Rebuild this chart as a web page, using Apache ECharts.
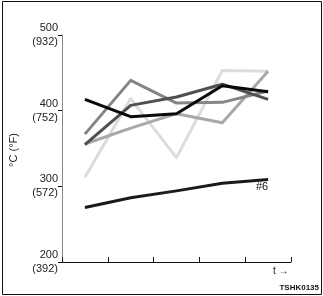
<!DOCTYPE html>
<html>
<head>
<meta charset="utf-8">
<script src="https://cdn.jsdelivr.net/npm/echarts@6/dist/echarts.min.js"></script>
<style>html,body{margin:0;padding:0;background:#fff}#c{width:323px;height:296px}</style>
</head>
<body>
<div id="c"></div>
<script>
// Data
var xPos = [0.5, 1.5, 2.5, 3.5, 4.5];
var seriesBlack = [415, 392, 396, 433, 425];
var seriesDark = [355, 407, 418, 435, 415];
var seriesMid = [369, 440, 410, 411, 426];
var seriesLight = [356, 377, 396, 384, 452];
var seriesLightest = [312, 416, 338, 453, 452];
var series6 = [272, 285, 294, 304, 309];
var yTickC = [200, 300, 400, 500];
var yTickF = ['392', '572', '752', '932'];

function pts(arr) { return arr.map(function (v, i) { return [xPos[i], v]; }); }

var chart = echarts.init(document.getElementById('c'), null, { renderer: 'canvas' });
var lineDefs = [
  { name: 'lightest', data: seriesLightest, color: '#dcdcdc' },
  { name: 'light', data: seriesLight, color: '#a8a8a8' },
  { name: 'mid', data: seriesMid, color: '#858585' },
  { name: 'dark', data: seriesDark, color: '#505050' },
  { name: 'black', data: seriesBlack, color: '#0a0a0a' },
  { name: '#6', data: series6, color: '#1a1a1a' }
];
chart.setOption({
  animation: false,
  grid: { left: 62, right: 32, top: 35, bottom: 34 },
  xAxis: {
    type: 'value', min: 0, max: 5, interval: 1,
    axisLine: { lineStyle: { color: '#111', width: 1 } },
    axisTick: { show: true, inside: true, length: 5, lineStyle: { color: '#111' } },
    axisLabel: { show: false },
    splitLine: { show: false }
  },
  yAxis: {
    type: 'value', min: 200, max: 500, interval: 100,
    axisLine: { show: true, lineStyle: { color: '#888', width: 1 } },
    axisTick: { show: true, inside: false, length: 4, lineStyle: { color: '#111' } },
    axisLabel: {
      margin: 4, color: '#222', fontSize: 11, lineHeight: 14,
      fontFamily: 'Liberation Sans, Arial, sans-serif',
      formatter: function (v) { var i = yTickC.indexOf(v); return v + '\n(' + yTickF[i] + ')'; }
    },
    splitLine: { show: false }
  },
  series: lineDefs.map(function (d) {
    return {
      name: d.name, type: 'line', data: pts(d.data), symbol: 'none',
      lineStyle: { color: d.color, width: 3, join: 'round' }
    };
  }),
  graphic: [
    { type: 'rect', shape: { x: 2.5, y: 1.5, width: 319, height: 293 }, style: { fill: 'none', stroke: '#111', lineWidth: 1 }, z: 100 },
    { type: 'text', x: 14, y: 150, rotation: Math.PI / 2, style: { text: '°C (°F)', fill: '#222', font: '11px Liberation Sans, Arial, sans-serif', textAlign: 'center', textVerticalAlign: 'middle' } },
    { type: 'text', x: 256, y: 187, style: { text: '#6', fill: '#111', font: '11px Liberation Sans, Arial, sans-serif', textVerticalAlign: 'middle' } },
    { type: 'text', x: 273, y: 271, style: { text: 't →', fill: '#222', font: '10px Liberation Sans, Arial, sans-serif', textVerticalAlign: 'middle' } },
    { type: 'text', x: 319, y: 288, style: { text: 'TSHK0135', fill: '#111', font: 'bold 8px Liberation Sans, Arial, sans-serif', textAlign: 'right', textVerticalAlign: 'middle' } }
  ]
});
</script>
</body>
</html>
